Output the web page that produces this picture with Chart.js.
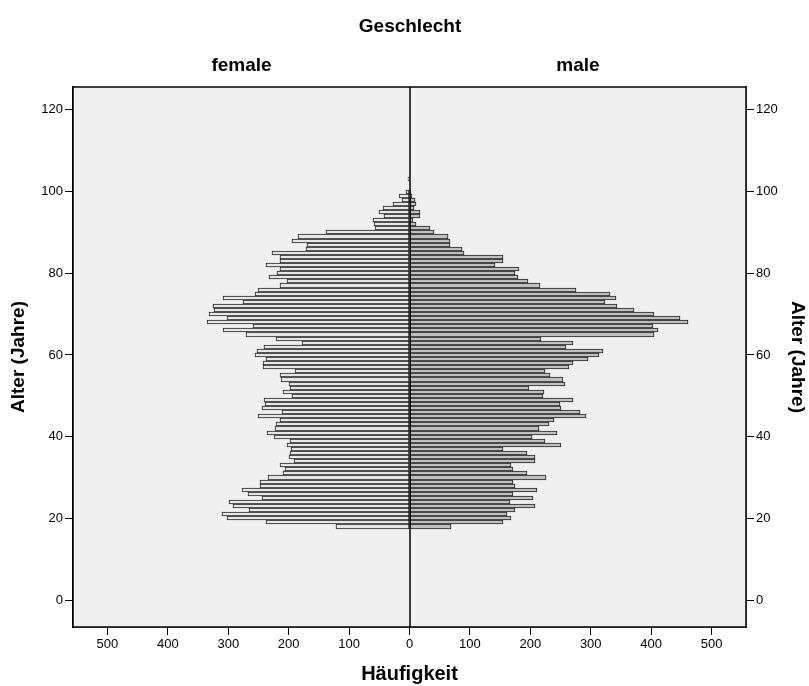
<!DOCTYPE html>
<html>
<head>
<meta charset="utf-8">
<script src="https://cdn.jsdelivr.net/npm/chart.js@4"></script>
<style>
html,body{margin:0;padding:0;background:#fff;}
#wrap{width:809px;height:686px;}
</style>
</head>
<body>
<div id="wrap"><canvas id="c" width="809" height="686"></canvas></div>
<script>
const ages = [];
for (let a = 18; a <= 110; a++) ages.push(a);
const female = [121,238,302,311,265,292,299,244,267,278,248,248,234,210,206,215,192,200,198,196,203,198,
  225,236,222,221,214,251,211,244,240,241,195,210,197,199,212,214,189,242,242,238,256,253,241,178,
  221,270,308,259,336,302,332,323,325,276,308,256,251,215,203,233,219,215,238,214,215,227,171,169,
  195,185,138,57,58,61,42,51,44,28,13,17,5,0,0,2,0,0,0,0,0,1,0];
const male = [69,154,168,162,174,207,166,204,172,211,174,172,226,194,172,168,207,207,194,155,251,224,
  202,244,215,231,239,292,282,251,249,270,221,223,198,257,254,232,225,264,270,295,313,321,259,270,
  217,405,412,403,461,447,405,371,343,323,342,332,275,216,196,180,175,182,141,155,155,90,87,67,
  67,63,40,34,11,5,18,18,7,11,9,4,3,0,0,0,0,0,0,0,0,0,0];
const xTicks = [-500,-400,-300,-200,-100,0,100,200,300,400,500];
const yTicks = [0,20,40,60,80,100,120];
const panelLabels = ['female','male'];

const FONT = '"Liberation Sans", Arial, sans-serif';

const frame = {
  id: 'frame',
  beforeDatasetsDraw(chart) {
    const {ctx, chartArea: a} = chart;
    ctx.save();
    ctx.fillStyle = '#f0f0f0';
    ctx.fillRect(a.left, a.top, a.right - a.left, a.bottom - a.top);
    ctx.restore();
    // snap bar edges to whole pixels (positions still come from the scales)
    const ys = chart.scales.y;
    chart.data.datasets.forEach((ds, di) => {
      const meta = chart.getDatasetMeta(di);
      meta.data.forEach((el, i) => {
        const age = ages[i];
        const top = Math.round(ys.getPixelForValue(age + 0.5));
        const bot = Math.round(ys.getPixelForValue(age - 0.5));
        el.y = (top + bot) / 2;
        el.height = bot - top;
        el.x = Math.round(el.x);
        el.base = Math.round(el.base);
      });
    });
  },
  afterDatasetsDraw(chart) {
    const {ctx, chartArea: a, scales} = chart;
    const x0 = Math.round(scales.x.getPixelForValue(0));
    ctx.save();
    ctx.strokeStyle = '#000';
    ctx.lineWidth = 1.5;
    ctx.beginPath();
    ctx.moveTo(x0, a.top); ctx.lineTo(x0, a.bottom);
    ctx.stroke();
    ctx.strokeRect(a.left, a.top, a.right - a.left, a.bottom - a.top);
    ctx.fillStyle = '#000';
    ctx.textAlign = 'center';
    ctx.textBaseline = 'middle';
    ctx.font = 'bold 19px ' + FONT;
    ctx.fillText('Geschlecht', x0, 27);
    ctx.fillText(panelLabels[0], (a.left + x0) / 2, 66);
    ctx.fillText(panelLabels[1], (a.right + x0) / 2, 66);
    ctx.restore();
  }
};

const yAxisBase = {
  type: 'linear',
  min: -6.6,
  max: 125.6,
  offset: false,
  afterBuildTicks: (s) => { s.ticks = yTicks.map(v => ({value: v})); },
  ticks: { color: '#000', font: {family: FONT, size: 13}, padding: 2 },
  grid: { display: true, offset: false, drawOnChartArea: false, drawTicks: true, tickLength: 8, color: '#000', lineWidth: 1 },
  border: { display: true, color: '#000', width: 1.5 }
};
const yTitleFont = {family: FONT, size: 19, weight: 'bold'};

new Chart(document.getElementById('c'), {
  type: 'bar',
  data: {
    datasets: [
      {
        label: 'female',
        data: ages.map((a, i) => ({x: -female[i], y: a})),
        backgroundColor: '#e6e6e6',
        borderColor: '#222',
        borderWidth: 1,
        borderSkipped: false,
        grouped: false,
        barPercentage: 1,
        categoryPercentage: 1
      },
      {
        label: 'male',
        data: ages.map((a, i) => ({x: male[i], y: a})),
        backgroundColor: '#bfbfbf',
        borderColor: '#222',
        borderWidth: 1,
        borderSkipped: false,
        grouped: false,
        barPercentage: 1,
        categoryPercentage: 1
      }
    ]
  },
  options: {
    indexAxis: 'y',
    responsive: false,
    animation: false,
    devicePixelRatio: 1,
    layout: { padding: {top: 87, left: 0, right: 0, bottom: 0} },
    plugins: { legend: {display: false}, tooltip: {enabled: false}, title: {display: false} },
    scales: {
      x: {
        type: 'linear',
        position: 'bottom',
        min: -557,
        max: 557,
        offset: false,
        afterBuildTicks: (s) => { s.ticks = xTicks.map(v => ({value: v})); },
        afterFit: (s) => { s.height = 59; },
        ticks: { color: '#000', font: {family: FONT, size: 13}, padding: 2, maxRotation: 0, callback: (v) => Math.abs(v) },
        grid: { display: true, offset: false, drawOnChartArea: false, drawTicks: true, tickLength: 8, color: '#000', lineWidth: 1 },
        border: { display: true, color: '#000', width: 1.5 },
        title: { display: true, text: 'Häufigkeit', color: '#000', font: {family: FONT, size: 20, weight: 'bold'}, padding: {top: 0, bottom: 0} }
      },
      y: Object.assign({}, yAxisBase, {
        position: 'left',
        afterFit: (s) => { s.width = 73; },
        title: { display: true, text: 'Alter (Jahre)', color: '#000', font: yTitleFont, padding: {top: 7, bottom: 0} }
      }),
      y2: Object.assign({}, yAxisBase, {
        position: 'right',
        afterFit: (s) => { s.width = 63; },
        title: { display: true, text: 'Alter (Jahre)', color: '#000', font: yTitleFont, padding: {top: 0, bottom: 0} }
      })
    }
  },
  plugins: [frame]
});
</script>
</body>
</html>
